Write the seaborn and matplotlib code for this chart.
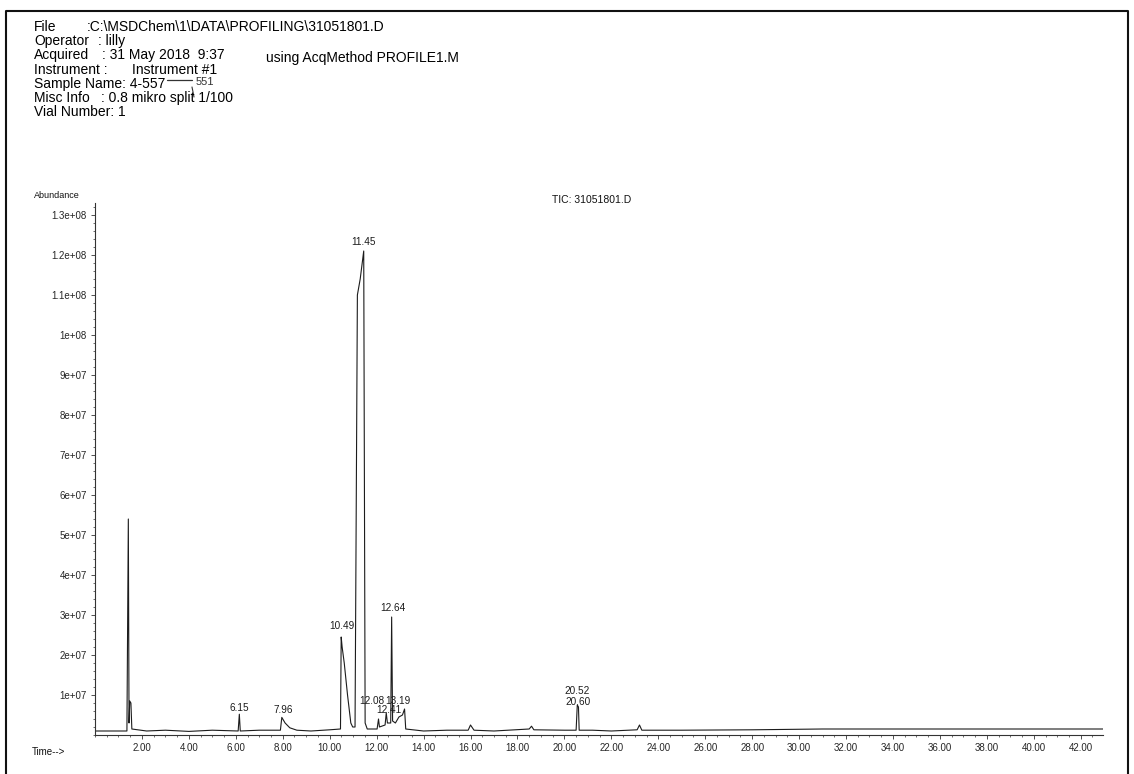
import matplotlib
matplotlib.use('Agg')
import numpy as np
import matplotlib.pyplot as plt
import seaborn as sns
from matplotlib.ticker import FixedLocator, MultipleLocator, FuncFormatter
from matplotlib.lines import Line2D

# TIC trace (time in min, abundance in counts)
time_min = [0.05, 0.8, 1.36, 1.42, 1.45, 1.48, 1.53, 1.57, 2.2, 3.0, 4.0, 5.0,
            6.10, 6.15, 6.19, 7.0, 7.90, 7.96, 8.10, 8.30, 8.60, 9.2, 10.0,
            10.46, 10.49, 10.53, 10.62, 10.76, 10.90, 10.98, 11.08, 11.18,
            11.30, 11.45, 11.51, 11.60, 12.02, 12.08, 12.12, 12.36, 12.41,
            12.46, 12.60, 12.64, 12.68, 12.80, 12.95, 13.10, 13.19, 13.24,
            14.0, 15.0, 15.9, 16.0, 16.15, 17.0, 18.5, 18.6, 18.7, 20.0,
            20.50, 20.55, 20.60, 20.63, 21.2, 22.0, 23.1, 23.2, 23.3, 25.0, 28.0,
            31.0, 34.0, 38.0, 42.95]
abundance = [1.0e6, 1.0e6, 1.0e6, 5.40e7, 3.0e6, 8.5e6, 8.0e6, 1.5e6, 1.0e6, 1.2e6, 0.9e6, 1.2e6,
             1.0e6, 5.2e6, 1.0e6, 1.2e6, 1.2e6, 4.4e6, 3.0e6, 1.8e6, 1.2e6, 1.0e6, 1.3e6,
             1.5e6, 2.45e7, 2.2e7, 1.8e7, 1.0e7, 3.0e6, 2.0e6, 2.0e6, 1.10e8,
             1.14e8, 1.21e8, 3.0e6, 1.5e6, 1.5e6, 4.0e6, 2.0e6, 2.5e6, 5.5e6,
             3.0e6, 3.0e6, 2.95e7, 3.5e6, 3.0e6, 4.5e6, 5.0e6, 6.5e6, 1.5e6,
             1.0e6, 1.2e6, 1.2e6, 2.5e6, 1.2e6, 1.0e6, 1.5e6, 2.2e6, 1.3e6, 1.2e6,
             1.2e6, 7.5e6, 7.0e6, 1.2e6, 1.2e6, 1.0e6, 1.3e6, 2.5e6, 1.2e6, 1.2e6, 1.3e6,
             1.5e6, 1.5e6, 1.5e6, 1.5e6]

# labelled peaks
peak_labels = ['6.15', '7.96', '10.49', '11.45', '12.08', '12.41', '12.64', '13.19', '20.52', '20.60']
peak_times = [6.15, 7.96, 10.49, 11.45, 12.08, 12.41, 12.64, 13.19, 20.52, 20.60]
peak_heights = [5.2e6, 4.4e6, 2.45e7, 1.21e8, 4.0e6, 5.5e6, 2.95e7, 6.5e6, 7.5e6, 7.5e6]
# offset of each label from its peak apex, pixels
label_offsets = [(0, 1), (1, 2), (1, 6), (0, 4), (-7, 13), (3, -2), (1, 4), (-7, 3), (0, 9), (0, -2)]

y_ticks = np.arange(1e7, 1.31e8, 1e7)
x_ticks = np.arange(2, 43, 2)

header_keys = ['File', 'Operator', 'Acquired', 'Instrument :', 'Sample Name: 4-557', 'Misc Info', 'Vial Number: 1']
header_values = [':C:\\MSDChem\\1\\DATA\\PROFILING\\31051801.D', ': lilly', ': 31 May 2018  9:37',
                 'Instrument #1', '', ': 0.8 mikro split 1/100', '']
header_x = [87, 98, 102, 132, 0, 101, 0]

sns.set_style('ticks')
plt.rcParams['font.family'] = ['Liberation Sans', 'DejaVu Sans']

W, H = 1134, 774
fig = plt.figure(figsize=(W / 100, H / 100), dpi=100)
ax = fig.add_axes([95 / W, 1 - 735 / H, (1103 - 95) / W, (735 - 203) / H])

sns.lineplot(x=time_min, y=abundance, ax=ax, estimator=None, sort=False,
             color='#1c1c1c', linewidth=0.8)

ax.set_xlim(0, 42.95)
ax.set_ylim(0, 1.33e8)
sns.despine(ax=ax)
for s in ['left', 'bottom']:
    ax.spines[s].set_linewidth(0.8)
    ax.spines[s].set_color('#333333')

ax.xaxis.set_major_locator(FixedLocator(x_ticks))
ax.xaxis.set_minor_locator(MultipleLocator(0.5))
ax.yaxis.set_major_locator(FixedLocator(y_ticks))
ax.yaxis.set_minor_locator(MultipleLocator(2e6))
ax.xaxis.set_major_formatter(FuncFormatter(lambda v, p: f'{v:.2f}'))
ax.yaxis.set_major_formatter(FuncFormatter(lambda v, p: f'{v:.2g}'))
ax.tick_params(which='major', length=3, width=0.6, labelsize=7, color='#333333', pad=3)
ax.tick_params(which='minor', length=1.5, width=0.5, color='#333333')
ax.set_xlabel('')
ax.set_ylabel('')

for lab, t, h, off in zip(peak_labels, peak_times, peak_heights, label_offsets):
    ax.annotate(lab, xy=(t, h), xytext=off, textcoords='offset pixels',
                ha='center', va='bottom', fontsize=7.2, color='#1c1c1c')

# header block
for i, (k, v, vx) in enumerate(zip(header_keys, header_values, header_x)):
    y = 1 - (27 + i * 14.2) / H
    fig.text(34 / W, y, k, fontsize=10, va='center', ha='left', color='#000000')
    if v:
        fig.text(vx / W, y, v, fontsize=10, va='center', ha='left', color='#000000')
fig.text(266 / W, 1 - 58.4 / H, 'using AcqMethod PROFILE1.M', fontsize=10, va='center', color='#000000')
# handwritten correction on the sample name
fig.text(196 / W, 1 - 82 / H, '551', fontsize=8, va='center', color='#333333')
fig.add_artist(Line2D([167 / W, 192 / W], [1 - 79.5 / H, 1 - 79.5 / H], color='#333333', lw=0.9))
fig.add_artist(Line2D([192 / W, 194 / W], [1 - 87 / H, 1 - 97 / H], color='#333333', lw=0.8))

fig.text(34 / W, 1 - 196 / H, 'Abundance', fontsize=6.5, va='center', color='#111111')
fig.text(552 / W, 1 - 200 / H, 'TIC: 31051801.D', fontsize=7.5, va='center', color='#111111')
fig.text(32 / W, 1 - 752 / H, 'Time-->', fontsize=7, va='center', color='#111111')

# scan frame
fig.add_artist(Line2D([6 / W, 6 / W, 1128 / W, 1128 / W], [0, 1 - 10.5 / H, 1 - 10.5 / H, 0],
                      color='#111111', lw=1.5))

fig.savefig('out.png', dpi=100)
